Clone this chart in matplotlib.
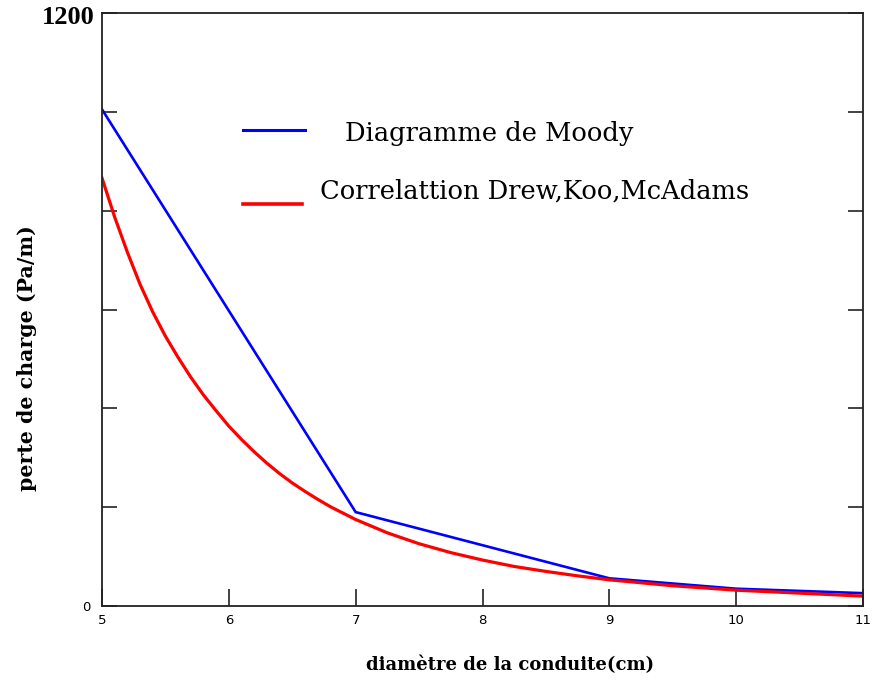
import matplotlib
matplotlib.use("Agg")
import matplotlib.pyplot as plt

# Data
moody_d = [5, 7, 9, 10, 11]
moody_dp = [1005, 190, 56, 35, 26]

corr_d = [5.0, 5.1, 5.2, 5.3, 5.4, 5.5, 5.6, 5.7, 5.8, 5.9, 6.0, 6.1, 6.2, 6.3,
          6.4, 6.5, 6.6, 6.7, 6.8, 6.9, 7.0, 7.25, 7.5, 7.75, 8.0, 8.25, 8.5,
          8.75, 9.0, 9.5, 10.0, 10.5, 11.0]
corr_dp = [866, 787, 716, 651, 595, 546, 503, 463, 427, 395, 364, 337, 312, 289,
           268, 249, 232, 216, 201, 188, 175, 148, 126, 108, 93, 80, 70,
           61, 53, 41, 32, 26, 20]

xticks = [5, 6, 7, 8, 9, 10, 11]
yticks = [0, 200, 400, 600, 800, 1000, 1200]
ytick_labels = ["0", "", "", "", "", "", ""]

W, H = 877, 684
fig = plt.figure(figsize=(W / 100, H / 100), dpi=100)
ax = fig.add_axes([102 / W, (H - 606) / H, 761 / W, 593 / H])

ax.plot(moody_d, moody_dp, color="#0000ff", lw=1.9, solid_joinstyle="miter")
ax.plot(corr_d, corr_dp, color="#ff0000", lw=2.3, solid_joinstyle="round")

ax.set_xlim(5, 11)
ax.set_ylim(0, 1200)
ax.set_xticks(xticks)
ax.set_xticklabels([str(t) for t in xticks])
ax.set_yticks(yticks)
ax.set_yticklabels(ytick_labels)

for s in ax.spines.values():
    s.set_linewidth(1.3)
    s.set_color("#222222")

ax.tick_params(axis="x", direction="in", length=12, width=1.2, pad=6,
               labelsize=9.5, colors="#222222", labelcolor="black")
ax.tick_params(axis="y", direction="in", length=11, width=1.2, pad=8,
               labelsize=9.5, right=True, colors="#222222", labelcolor="black")

# top y label (bold, larger, as in the reference)
fig.text(95 / W, 1 - 18 / H, "1200", fontsize=19, family="Liberation Serif",
         fontweight="bold", ha="right", va="center")

# Hand-drawn legend as in reference
fig.add_artist(plt.Line2D([243 / W, 305 / W], [1 - 130 / H, 1 - 130 / H],
                          color="#0000ff", lw=2.2))
fig.add_artist(plt.Line2D([243 / W, 302 / W], [1 - 204 / H, 1 - 204 / H],
                          color="#ff0000", lw=2.6))
fig.text(345 / W, 1 - 133 / H, "Diagramme de Moody", fontsize=18.5,
         family="DejaVu Serif", ha="left", va="center")
fig.text(320 / W, 1 - 191 / H, "Correlattion Drew,Koo,McAdams", fontsize=18.5,
         family="DejaVu Serif", ha="left", va="center")

fig.text(510 / W, 1 - 665 / H, "diamètre de la conduite(cm)", fontsize=13,
         family="DejaVu Serif", fontweight="bold", ha="center", va="center")
fig.text(27 / W, 1 - 358 / H, "perte de charge (Pa/m)", fontsize=14.8,
         family="DejaVu Serif", fontweight="bold", ha="center", va="center",
         rotation=90)

fig.savefig("out.png", dpi=100, facecolor="white")
